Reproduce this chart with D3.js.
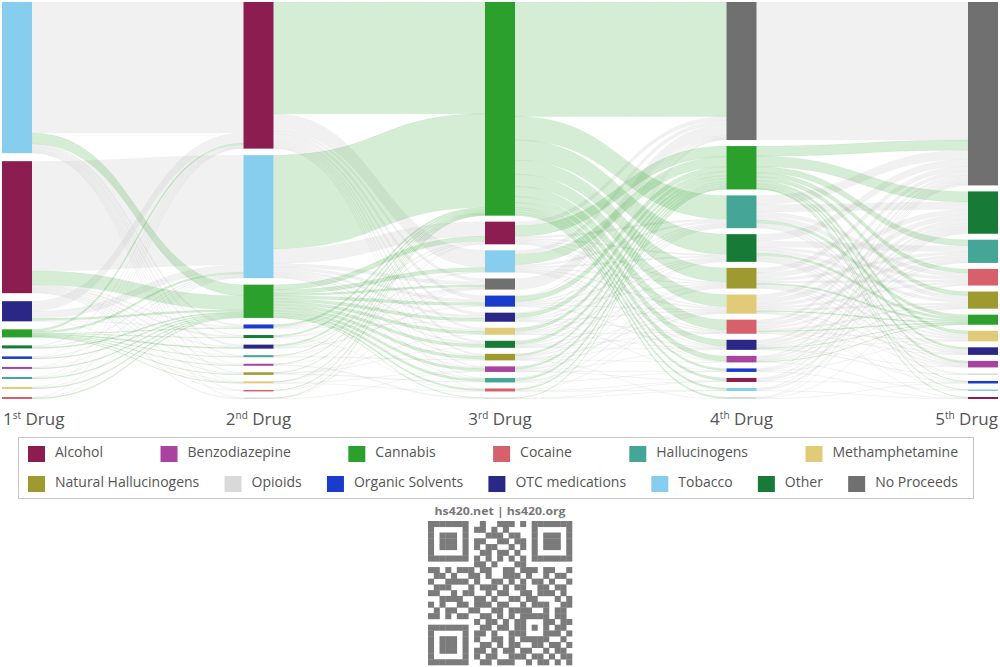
<!DOCTYPE html>
<html><head><meta charset="utf-8">
<script src="https://cdn.jsdelivr.net/npm/d3@7"></script>
<style>body{margin:0;background:#fff;} text{font-family:"Open Sans",sans-serif;}</style>
</head><body><svg id="c" width="1000" height="667"></svg>
<script>
// ---------- data ----------
const stageNums = ["1","2","3","4","5"];
const stageSups = ["st","nd","rd","th","th"];
const drugCodes = ["AL","BZ","CA","CO","HA","ME","NH","OP","OS","OT","TO","OH","NP"];
const drugNames = ["Alcohol","Benzodiazepine","Cannabis","Cocaine","Hallucinogens","Methamphetamine",
  "Natural Hallucinogens","Opioids","Organic Solvents","OTC medications","Tobacco","Other","No Proceeds"];
const drugColors = ["#8c1d50","#a8449e","#2ca02c","#d6616b","#45a597","#e2cb78",
  "#9e9a30","#d9d9d9","#1a3ccc","#2b2787","#87cdee","#177a36","#707070"];
const legendRow1 = ["AL","BZ","CA","CO","HA","ME"];
const legendRow2 = ["NH","OP","OS","OT","TO","OH","NP"];

const order1 = ["TO","AL","OT","CA","OH","OS","BZ","HA","ME","CO"];
const order2 = ["AL","TO","CA","OS","OH","OT","HA","BZ","NH","ME","CO","OP"];
const order3 = ["CA","AL","TO","NP","OS","OT","ME","OH","NH","BZ","HA","CO","OP"];
const order4 = ["NP","CA","HA","OH","NH","ME","CO","OT","BZ","OS","AL","TO","OP"];
const order5 = ["NP","OH","HA","CO","NH","CA","ME","OT","BZ","OP","OS","TO","AL"];

const flows12 = [
 ["TO","AL",130],["TO","CA",11],["TO","OS",2],["TO","OH",1],["TO","OT",2],["TO","HA",1],["TO","BZ",0.5],["TO","NH",1],["TO","ME",0.5],["TO","CO",0.5],["TO","OP",0.5],
 ["AL","TO",109],["AL","CA",14],["AL","OS",1],["AL","OH",1.5],["AL","OT",1],["AL","HA",0.5],["AL","BZ",1],["AL","NH",1],["AL","ME",0.5],["AL","CO",0.5],["AL","OP",1],
 ["OT","AL",10],["OT","TO",7],["OT","CA",2],["OT","OS",0.5],["OT","ME",0.5],
 ["CA","AL",2],["CA","TO",2],["CA","OS",0.5],["CA","OH",0.5],["CA","OT",1],["CA","HA",0.5],["CA","BZ",0.5],["CA","NH",0.5],["CA","ME",0.5],
 ["OH","AL",1],["OH","TO",1],["OH","CA",1],
 ["OS","AL",0.5],["OS","TO",1],["OS","CA",1],
 ["BZ","AL",0.5],["BZ","TO",0.5],["BZ","CA",1],
 ["HA","AL",0.5],["HA","TO",0.5],["HA","CA",1],
 ["ME","AL",0.5],["ME","TO",0.5],["ME","CA",1],
 ["CO","AL",0.5],["CO","TO",0.5],["CO","CA",1]
];
const flows23 = [
 ["AL","CA",111],["AL","TO",17],["AL","NP",3],["AL","OS",4],["AL","OT",3],["AL","ME",2],["AL","OH",2],["AL","NH",1.5],["AL","BZ",1],["AL","HA",0.5],["AL","CO",0.5],
 ["TO","CA",93],["TO","AL",14.5],["TO","NP",3.5],["TO","OS",3],["TO","OT",2.5],["TO","ME",1.5],["TO","OH",1.5],["TO","NH",1],["TO","BZ",1],["TO","HA",0.5],
 ["CA","AL",5],["CA","TO",4],["CA","NP",2],["CA","OS",3],["CA","OT",3],["CA","ME",3],["CA","OH",3],["CA","NH",3],["CA","BZ",2.5],["CA","HA",2.5],["CA","CO",1.5],["CA","OP",0.5],
 ["OS","CA",2],["OS","AL",1],["OS","NP",0.5],["OS","OT",0.5],
 ["OH","CA",1.5],["OH","NP",0.5],["OH","TO",0.5],["OH","CO",0.5],
 ["OT","CA",1.5],["OT","AL",1],["OT","OS",1],["OT","NP",0.5],
 ["HA","CA",0.5],["HA","NH",1],["HA","TO",0.5],
 ["BZ","CA",0.5],["BZ","OP",1],["BZ","NP",0.5],
 ["NH","CA",0.5],["NH","HA",1],["NH","OH",0.5],["NH","ME",0.5],
 ["ME","CA",0.5],["ME","AL",0.5],["ME","CO",0.5],["ME","BZ",0.5],
 ["CO","CA",0.5],["CO","NP",0.5],
 ["OP","CA",0.5],["OP","BZ",0.5],["OP","AL",0.5]
];
const flows34 = [
 ["CA","NP",113.5],["CA","HA",23.5],["CA","OH",20],["CA","NH",14],["CA","ME",12],["CA","CO",10],["CA","OT",6],["CA","BZ",5],["CA","OS",2],["CA","AL",2.5],["CA","TO",2],["CA","OP",1.5],
 ["AL","NP",4],["AL","CA",10.5],["AL","HA",2],["AL","OH",1.5],["AL","NH",1],["AL","ME",1],["AL","CO",1],["AL","OT",1],["AL","BZ",0.5],
 ["TO","NP",4],["TO","CA",10],["TO","HA",2],["TO","OH",1.5],["TO","NH",1],["TO","ME",1.5],["TO","CO",1],["TO","OT",0.5],["TO","BZ",0.5],
 ["NP","NP",11],
 ["OS","CA",5],["OS","NP",1],["OS","HA",1],["OS","OH",1],["OS","NH",1],["OS","ME",1],["OS","OT",1],
 ["OT","CA",4],["OT","NP",1],["OT","HA",1],["OT","OH",1],["OT","ME",1],["OT","CO",0.5],["OT","OS",0.5],
 ["ME","CA",3],["ME","NP",0.5],["ME","HA",1],["ME","OH",1],["ME","NH",0.5],["ME","CO",0.5],["ME","OT",0.5],
 ["OH","CA",3],["OH","NP",0.5],["OH","HA",1],["OH","NH",1],["OH","ME",0.5],["OH","CO",0.5],["OH","OT",0.5],
 ["NH","CA",2],["NH","HA",1],["NH","OH",1],["NH","ME",1],["NH","CO",0.5],["NH","BZ",0.5],["NH","OP",0.5],
 ["BZ","CA",2],["BZ","NP",0.5],["BZ","OH",0.5],["BZ","NH",1],["BZ","OT",0.5],["BZ","AL",0.5],["BZ","OS",0.5],
 ["HA","CA",2],["HA","NP",0.5],["HA","NH",1],["HA","ME",0.5],["HA","OS",0.5],
 ["CO","CA",1],["CO","NP",0.5],["CO","ME",0.5],["CO","TO",0.5],["CO","AL",0.5],
 ["OP","CA",0.5],["OP","AL",0.5],["OP","TO",0.5]
];
const flows45 = [
 ["NP","NP",137],
 ["CA","NP",10],["CA","OH",10.5],["CA","HA",6],["CA","CO",4],["CA","NH",4],["CA","ME",3],["CA","OT",2],["CA","BZ",2],["CA","OS",0.5],["CA","TO",0.5],["CA","AL",0.5],
 ["HA","NP",9],["HA","OH",7.5],["HA","CO",4],["HA","NH",4],["HA","CA",3],["HA","ME",2],["HA","OT",1.5],["HA","BZ",1],["HA","OP",0.5],
 ["OH","NP",7],["OH","HA",6],["OH","CO",3],["OH","NH",3],["OH","CA",2.5],["OH","ME",2],["OH","OT",1.5],["OH","BZ",1.5],["OH","OS",0.5],["OH","OP",0.5],
 ["NH","NP",5],["NH","OH",5],["NH","HA",3],["NH","CO",2],["NH","CA",1.5],["NH","ME",1.5],["NH","OT",1],["NH","BZ",1],["NH","TO",0.5],
 ["ME","NP",4],["ME","OH",5],["ME","HA",3],["ME","CO",2],["ME","NH",2],["ME","CA",1],["ME","OT",1],["ME","BZ",0.5],["ME","AL",0.5],
 ["CO","NP",3],["CO","OH",4],["CO","HA",2],["CO","NH",2],["CO","CA",1],["CO","ME",1],["CO","OT",0.5],["CO","OS",0.5],
 ["OT","NP",2],["OT","OH",3],["OT","HA",1.5],["OT","NH",1],["OT","CA",0.5],["OT","ME",0.5],["OT","CO",0.5],["OT","BZ",0.5],["OT","OP",0.5],
 ["BZ","NP",1.5],["BZ","OH",2],["BZ","HA",1],["BZ","NH",0.5],["BZ","CO",0.5],["BZ","CA",0.5],["BZ","TO",0.5],
 ["OS","NP",1],["OS","OH",1],["OS","HA",0.5],["OS","ME",0.5],["OS","AL",0.5],
 ["AL","NP",1],["AL","OH",2],["AL","CO",0.5],["AL","OS",0.5],
 ["TO","NP",1],["TO","OH",1.5],["TO","AL",0.5],
 ["OP","NP",0.5],["OP","OS",0.5],["OP","OH",0.5],["OP","NH",0.5]
];

// QR watermark pattern (decoration)
const qrRows = [
 "1111111001001110101111111","1000001011010100001000001","1011101000111011001011101",
 "1011101011001101101011101","1011101010110010101011101","1000001001101101001000001",
 "1111111010101010101111111","0000000011010001100000000","1101011101100110111011001",
 "0110100110100111010010110","1001111010011010101101001","0111000101110101100110110",
 "1100101100101100110111010","0011110011010011011000101","1010011011101100101110011",
 "0101100110011011110010110","1101011001101010111110110","0000000010110101100011011",
 "1111111001101101101010110","1000001011010011100011101","1011101010011010111110010",
 "1011101001101011001101101","1011101011010110110010110","1000001010110011101101011",
 "1111111001101110010110101"
];

// ---------- build ----------
(function () {
const svg = d3.select("#c");
const colorOf = d3.scaleOrdinal().domain(drugCodes).range(drugColors);
const nameOf = d3.scaleOrdinal().domain(drugCodes).range(drugNames);
const orders = [order1, order2, order3, order4, order5];
const flows = [flows12, flows23, flows34, flows45];

const nodeW = 30, yTop = 2, yBottom = 399, pad = 6;
const xScale = d3.scalePoint().domain(d3.range(5)).range([2, 968]);

const nodes = new Map();
orders.forEach((ord, s) => ord.forEach((c, i) => {
  nodes.set(s + ":" + c, {code: c, stage: s, idx: i, inV: 0, outV: 0, sourceLinks: [], targetLinks: []});
}));
const links = [];
flows.forEach((fl, s) => fl.forEach(([a, b, v]) => {
  const src = nodes.get(s + ":" + a), tgt = nodes.get((s + 1) + ":" + b);
  const l = {source: src, target: tgt, value: v};
  src.outV += v; tgt.inV += v;
  src.sourceLinks.push(l); tgt.targetLinks.push(l);
  links.push(l);
}));
nodes.forEach(n => n.value = Math.max(n.inV, n.outV));

const cols = orders.map((ord, s) => ord.map(c => nodes.get(s + ":" + c)));
const H = yBottom - yTop;
const ky = d3.min(cols, col => (H - (col.length - 1) * pad) / d3.sum(col, n => n.value));
cols.forEach((col, s) => {
  const sum = d3.sum(col, n => n.value);
  const p = (H - ky * sum) / (col.length - 1);
  let y = yTop;
  col.forEach(n => {
    n.x0 = xScale(s); n.x1 = n.x0 + nodeW;
    n.y0 = y; n.y1 = y + n.value * ky; y = n.y1 + p;
  });
});
nodes.forEach(n => {
  n.sourceLinks.sort((a, b) => a.target.y0 - b.target.y0);
  n.targetLinks.sort((a, b) => a.source.y0 - b.source.y0);
  let y = n.y0;
  n.sourceLinks.forEach(l => { l.sy0 = y; y += l.value * ky; l.sy1 = y; });
  y = n.y0;
  n.targetLinks.forEach(l => { l.ty0 = y; y += l.value * ky; l.ty1 = y; });
});

function ribbon(l) {
  const x0 = l.source.x1, x1 = l.target.x0, xm = (x0 + x1) / 2;
  return `M${x0},${l.sy0}C${xm},${l.sy0} ${xm},${l.ty0} ${x1},${l.ty0}` +
         `L${x1},${l.ty1}C${xm},${l.ty1} ${xm},${l.sy1} ${x0},${l.sy1}Z`;
}
const isGreen = l => l.source.code === "CA" || l.target.code === "CA";
const gLinks = svg.append("g");
gLinks.selectAll("path.grey").data(links.filter(l => !isGreen(l))).join("path")
  .attr("d", ribbon).attr("fill", "#c4c4c4").attr("fill-opacity", 0.24)
  .attr("stroke", "#c4c4c4").attr("stroke-opacity", 0.12).attr("stroke-width", 0.5);
gLinks.selectAll("path.green").data(links.filter(isGreen)).join("path")
  .attr("d", ribbon).attr("fill", "#2ca02c").attr("fill-opacity", 0.2)
  .attr("stroke", "#2ca02c").attr("stroke-opacity", 0.1).attr("stroke-width", 0.5);

svg.append("g").selectAll("rect").data(Array.from(nodes.values())).join("rect")
  .attr("x", d => d.x0).attr("y", d => d.y0)
  .attr("width", nodeW).attr("height", d => Math.max(1.5, d.y1 - d.y0))
  .attr("fill", d => colorOf(d.code));

// stage labels
const lab = svg.append("g").selectAll("text").data(stageNums).join("text")
  .attr("x", (d, i) => i === 0 ? xScale(i) + 1 : i === 4 ? xScale(i) + nodeW : xScale(i) + nodeW / 2)
  .attr("y", 425)
  .attr("text-anchor", (d, i) => i === 0 ? "start" : i === 4 ? "end" : "middle")
  .attr("font-size", 17).attr("fill", "#555");
lab.append("tspan").text(d => d);
lab.append("tspan").attr("font-size", 10).attr("dy", -6).text((d, i) => stageSups[i]);
lab.append("tspan").attr("dy", 6).text(" Drug");

// legend
svg.append("rect").attr("x", 18.5).attr("y", 437.5).attr("width", 955).attr("height", 61)
  .attr("fill", "none").attr("stroke", "#c6c6c6");
function legendRow(codes, ySw, yTx) {
  const g = svg.append("g");
  const items = g.selectAll("g").data(codes).join("g");
  items.append("rect").attr("width", 17).attr("height", 16).attr("y", ySw)
    .attr("fill", d => colorOf(d));
  items.append("text").attr("x", 27).attr("y", yTx).attr("font-size", 14).attr("fill", "#555")
    .text(d => nameOf(d));
  const widths = [];
  items.each(function () { widths.push(27 + d3.select(this).select("text").node().getComputedTextLength()); });
  const gap = (958 - 28 - d3.sum(widths)) / (codes.length - 1);
  let x = 28;
  items.each(function (d, i) { d3.select(this).attr("transform", `translate(${x},0)`); x += widths[i] + gap; });
}
legendRow(legendRow1, 446, 457);
legendRow(legendRow2, 476, 487);

// watermark
svg.append("text").attr("x", 500).attr("y", 515).attr("text-anchor", "middle")
  .attr("font-size", 11).attr("font-weight", "bold").attr("fill", "#777")
  .attr("textLength", 131).attr("lengthAdjust", "spacingAndGlyphs").text("hs420.net | hs420.org");
const m = 5.76, qx = 428, qy = 521;
const cells = [];
qrRows.forEach((r, i) => r.split("").forEach((c, j) => { if (c === "1") cells.push([i, j]); }));
svg.append("g").selectAll("rect").data(cells).join("rect")
  .attr("x", d => qx + d[1] * m).attr("y", d => qy + d[0] * m)
  .attr("width", m + 0.3).attr("height", m + 0.3).attr("fill", "#7b7b7b");
})();
</script></body></html>
